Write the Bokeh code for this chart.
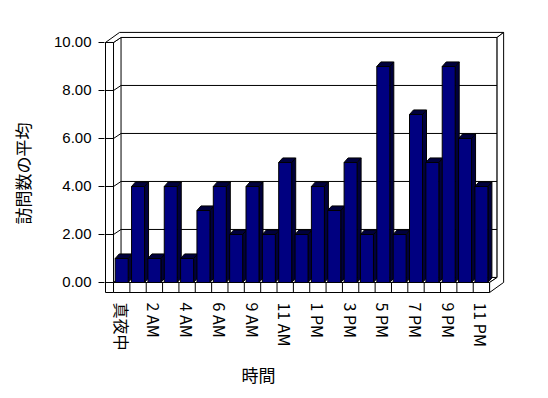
import math
from bokeh.plotting import figure
from bokeh.models import Range1d, FixedTicker, NumeralTickFormatter, Title
from bokeh.embed import file_html
from bokeh.resources import INLINE

# ---- data ----
hours = ["真夜中", "1 AM", "2 AM", "3 AM", "4 AM", "5 AM", "6 AM", "8 AM",
         "9 AM", "10 AM", "11 AM", "正午", "1 PM", "2 PM", "3 PM", "4 PM",
         "5 PM", "6 PM", "7 PM", "8 PM", "9 PM", "10 PM", "11 PM"]
visits = [1, 4, 1, 4, 1, 3, 4, 2, 4, 2, 5, 2, 4, 3, 5, 2, 9, 2, 7, 5, 9, 6, 4]
y_ticks = [0, 2, 4, 6, 8, 10]
x_title = "時間"
y_title = "訪問数の平均"

n = len(hours)
idx = list(range(n))
y_top = y_ticks[-1]

# ---- 3D geometry (style, in data units) ----
BW = 0.795              # bar front width
BDX, BDY = 0.245, 0.19  # bar depth offset
D1X, D1Y = 0.46, 0.21   # inner wall depth offset
D2X, D2Y = 0.86, 0.42   # outer wall depth offset
FT = 0.417              # floor thickness
WL = -0.99              # left wall outer edge
x0, x1 = -0.5, n - 0.5

p = figure(width=548, height=398,
           x_range=Range1d(-1.052, 23.535), y_range=Range1d(-1.4167, 10.5),
           output_backend="svg", toolbar_location=None,
           min_border_left=104, min_border_right=42,
           min_border_top=30, min_border_bottom=82)
p.outline_line_color = None
p.xgrid.visible = False
p.ygrid.visible = False
p.background_fill_color = "white"

LINE = dict(line_color="black", line_width=1)

# back wall inner face
p.patch([x0 + D1X, x1 + D1X, x1 + D1X, x0 + D1X],
        [D1Y, D1Y, y_top + D1Y, y_top + D1Y], fill_color="white", **LINE)
# gridlines on back wall and left wall inner face
gx, gy = [], []
for v in y_ticks[1:-1]:
    gx.append([x0 + D1X, x1 + D1X]); gy.append([v + D1Y, v + D1Y])
for v in y_ticks:
    gx.append([x0, x0 + D1X]); gy.append([v, v + D1Y])
p.multi_line(gx, gy, **LINE)
# floor top
p.patch([x0, x1, x1 + D1X, x0 + D1X], [0, 0, D1Y, D1Y], fill_color="white", **LINE)
# top band (back wall top + left wall top)
p.patch([x0 + D1X, x1 + D1X, x1 + D2X, WL + D2X, WL, x0],
        [y_top + D1Y, y_top + D1Y, y_top + D2Y, y_top + D2Y, y_top, y_top],
        fill_color="white", **LINE)
# right side faces
p.patch([x1 + D1X, x1 + D1X, x1 + D2X, x1 + D2X, x1, x1],
        [D1Y, y_top + D1Y, y_top + D2Y, D2Y - FT, -FT, 0],
        fill_color="white", **LINE)
# left wall front face
p.patch([WL, x0, x0, WL], [-FT, -FT, y_top, y_top], fill_color="white", **LINE)
p.multi_line([[WL, x0] for v in y_ticks], [[v, v] for v in y_ticks], **LINE)
# floor front face with category dividers
p.patch([x0, x1, x1, x0], [-FT, -FT, 0, 0], fill_color="white", **LINE)
p.multi_line([[x0 + k, x0 + k] for k in range(1, n)], [[-FT, 0] for k in range(1, n)], **LINE)

# bars
dark = "#00003C"
side_xs = [[i + BW / 2, i + BW / 2 + BDX, i + BW / 2 + BDX, i + BW / 2] for i in idx]
side_ys = [[0, BDY, v + BDY, v] for v in visits]
top_xs = [[i - BW / 2, i + BW / 2, i + BW / 2 + BDX, i - BW / 2 + BDX] for i in idx]
top_ys = [[v, v, v + BDY, v + BDY] for v in visits]
p.patches(side_xs, side_ys, fill_color=dark, **LINE)
p.patches(top_xs, top_ys, fill_color=dark, **LINE)
p.vbar(x=idx, top=visits, bottom=0, width=BW, fill_color="#000080", **LINE)

# y axis
p.yaxis.ticker = FixedTicker(ticks=y_ticks)
p.yaxis.formatter = NumeralTickFormatter(format="0.00")
p.yaxis.axis_line_color = None
p.yaxis.major_tick_out = 6
p.yaxis.major_tick_in = 0
p.yaxis.major_tick_line_color = "black"
p.yaxis.minor_tick_line_color = None
p.yaxis.major_label_standoff = 7
p.yaxis.major_label_text_font = "Liberation Sans"
p.yaxis.major_label_text_font_size = "15px"
p.yaxis.major_label_text_color = "black"
p.yaxis.axis_label = y_title
p.yaxis.axis_label_standoff = 16
p.yaxis.axis_label_text_font = "Noto Sans CJK JP"
p.yaxis.axis_label_text_font_size = "17px"
p.yaxis.axis_label_text_font_style = "normal"
p.yaxis.axis_label_text_color = "black"

# x axis
p.xaxis.ticker = FixedTicker(ticks=idx[::2])
p.xaxis.major_label_overrides = {i: hours[i] for i in idx[::2]}
p.xaxis.major_label_orientation = "vertical"
p.xaxis.axis_line_color = None
p.xaxis.major_tick_line_color = None
p.xaxis.minor_tick_line_color = None
p.xaxis.major_tick_out = 0
p.xaxis.major_tick_in = 0
p.xaxis.major_label_standoff = -14
p.xaxis.major_label_text_font = "Noto Sans CJK JP"
p.xaxis.major_label_text_font_size = "16px"
p.xaxis.major_label_text_color = "black"

# x axis title
p.add_layout(Title(text=x_title, align="left", offset=137, standoff=12,
                   text_font="Noto Sans CJK JP", text_font_size="17px",
                   text_font_style="normal", text_color="black"), "below")

open("out.html", "w").write(file_html(p, INLINE))
